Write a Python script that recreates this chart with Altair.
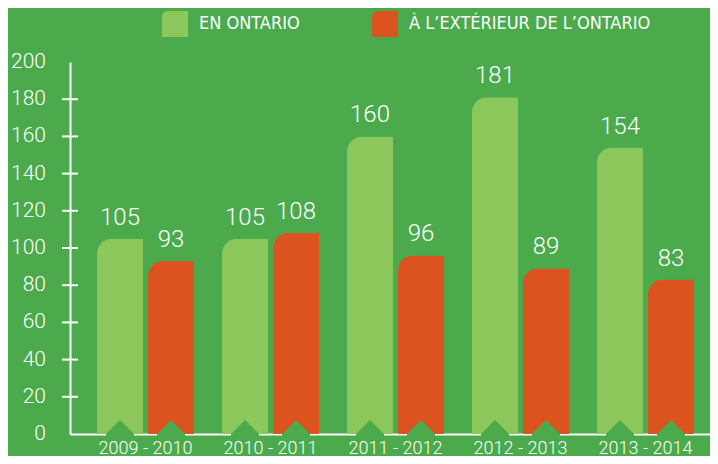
import altair as alt
import pandas as pd

periods = ["2009 - 2010", "2010 - 2011", "2011 - 2012", "2012 - 2013", "2013 - 2014"]
series = ["EN ONTARIO", "À L’EXTÉRIEUR DE L’ONTARIO"]
in_ontario = [105, 105, 160, 181, 154]
outside_ontario = [93, 108, 96, 89, 83]
y_labels = [0, 20, 40, 60, 80, 100, 120, 140, 160, 180, 200]
y_ticks = [20, 40, 60, 80, 100, 120, 140, 160, 180]
colors = ["#8CC75B", "#DC5320"]
BG = "#4AAA4C"

rows = []
for p, a, b in zip(periods, in_ontario, outside_ontario):
    rows.append({"period": p, "series": series[0], "value": a})
    rows.append({"period": p, "series": series[1], "value": b})
df = pd.DataFrame(rows)
ticks_df = pd.DataFrame({"tick": y_ticks})
ylab_df = pd.DataFrame({"label": y_labels})

FONT = "Roboto, 'Liberation Sans', sans-serif"
NARROW = "'Liberation Sans Narrow', 'DejaVu Sans Condensed', 'Roboto Condensed', Roboto, sans-serif"

x = alt.X(
    "period:N", sort=periods,
    scale=alt.Scale(paddingInner=0.224, paddingOuter=0.172, align=0.628),
    axis=alt.Axis(title=None, labelAngle=0, ticks=False, domainColor="white", domainWidth=2,
                  labelColor="white", labelFont=FONT, labelFontSize=18, labelFontWeight=300,
                  labelPadding=5),
)
xo = alt.XOffset("series:N", sort=series, scale=alt.Scale(paddingInner=0.098, paddingOuter=0))
y_axis = alt.Axis(title=None, values=y_labels, ticks=False, grid=False, domainColor="white",
                  domainWidth=2, labels=False)
y_scale = alt.Scale(domain=[0, 200], nice=False)
y = alt.Y("value:Q", scale=y_scale, axis=y_axis)
color = alt.Color(
    "series:N", sort=series,
    scale=alt.Scale(domain=series, range=colors),
    legend=alt.Legend(
        title=None, orient="none", legendX=92, legendY=-51, direction="horizontal",
        symbolType="M-1,1L-1,-0.5Q-1,-1,-0.5,-1L1,-1L1,1Z", symbolSize=676,
        symbolStrokeWidth=0, symbolOpacity=1, labelColor="white", labelFont=NARROW,
        labelFontSize=18, labelOffset=11, columnPadding=72, padding=0, labelLimit=400,
    ),
)

base = alt.Chart(df)
bars = base.mark_bar(cornerRadiusTopLeft=15).encode(x=x, xOffset=xo, y=y, color=color)
labels = base.mark_text(dy=-9, baseline="bottom", color="white", font=FONT, fontSize=24,
                        fontWeight=300).encode(x=x, xOffset=xo, y=y, text=alt.Text("value:Q"))
tris = base.mark_point(shape="M-1,0.25L-1,0L0,-1L1,0L1,0.25Z", size=784, filled=True,
                       color=BG, opacity=1, strokeWidth=0).encode(x=x, xOffset=xo, y=alt.datum(0))
rules = alt.Chart(ticks_df).mark_rule(color="white", strokeWidth=2).encode(
    y=alt.Y("tick:Q", scale=y_scale, axis=y_axis), x=alt.value(-8), x2=alt.value(8))
ylabels = alt.Chart(ylab_df).mark_text(
    align="right", baseline="middle", color="white", font=FONT, fontSize=21, fontWeight=300
).encode(y=alt.Y("label:Q", scale=y_scale, axis=y_axis), x=alt.value(-24),
         text=alt.Text("label:Q"))

chart = alt.layer(bars, labels, tris, rules, ylabels).properties(
    width=640, height=372,
    autosize=alt.AutoSizeParams(type="none"),
    padding={"left": 62, "top": 54, "right": 0, "bottom": 22},
    background=BG,
).configure_view(stroke=None)

chart.save("out.html", embed_options={"renderer": "svg", "actions": False})
